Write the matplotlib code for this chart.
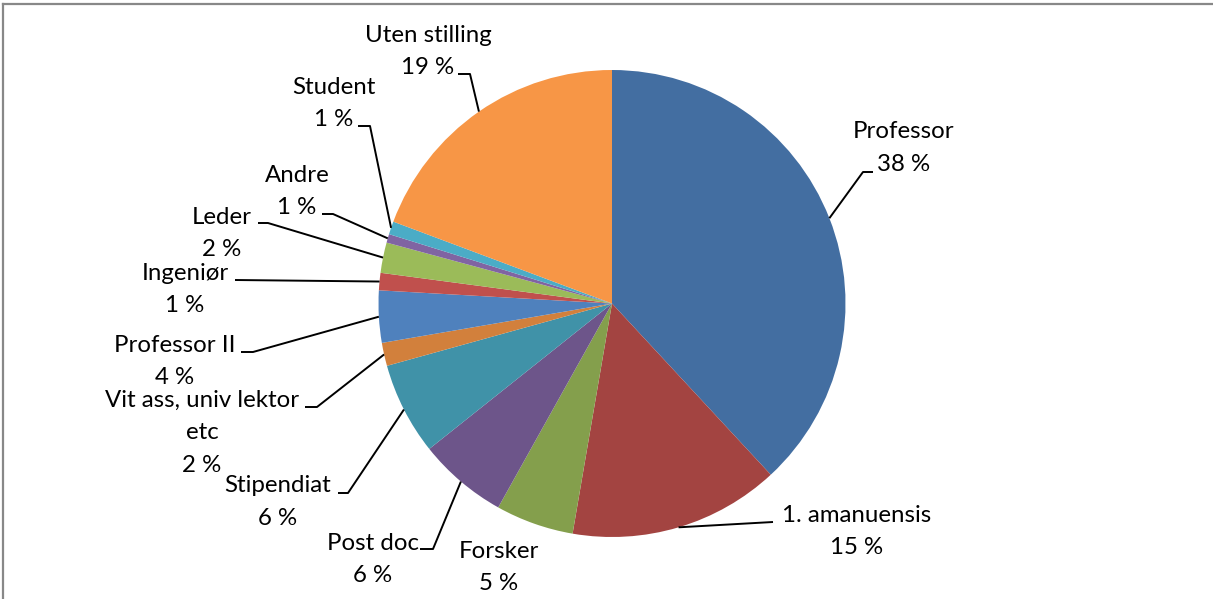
import matplotlib
matplotlib.use('Agg')
import matplotlib.pyplot as plt
import numpy as np

# ---- data ----
categories = ['Professor', '1. amanuensis', 'Forsker', 'Post doc', 'Stipendiat',
              'Vit ass, univ lektor\netc', 'Professor II', 'Ingeniør', 'Leder',
              'Andre', 'Student', 'Uten stilling']
shares = [38.1, 14.6, 5.4, 6.2, 6.4, 1.6, 3.6, 1.2, 2.1, 0.6, 0.9, 19.3]
colors = ['#436EA1', '#A34441', '#849F4C', '#6D558A', '#4092A8', '#D2803C',
          '#4F81BD', '#C0504D', '#9BBB59', '#8064A2', '#4BACC6', '#F79646']

# ---- layout (pixel coordinates, y down) ----
W, H = 1213, 599
cx, cy, R = 612, 303.5, 233.5
label_pos = [(904, 132), (856.5, 515), (499, 551), (373, 543), (278, 486),
             (202, 400), (175, 345), (185, 273), (222, 217), (297, 175),
             (334, 87), (428, 35)]
leader_pts = [[(873, 172), (863, 172)], [(773, 522)], [],
              [(420, 549), (433, 549)], [(338, 493), (348, 493)],
              [(305, 407), (317, 407)], [(241, 352), (253, 352)],
              [(235, 280)], [(258, 223), (268, 223)], [(322, 214), (333, 214)],
              [(358, 126), (370, 126)], [(458, 74), (470, 74)]]
line_gap = 32.5

plt.rcParams['font.family'] = ['Lato', 'DejaVu Sans']

def Y(y):
    return H - y

fig = plt.figure(figsize=(W / 100, H / 100), dpi=100)
ax = fig.add_axes([0, 0, 1, 1])
wedges, _ = ax.pie(shares, colors=colors, startangle=90, counterclock=False,
                   center=(cx, Y(cy)), radius=R,
                   wedgeprops=dict(linewidth=0.4, edgecolor='none'))
ax.set_xlim(0, W)
ax.set_ylim(0, H)
ax.set_aspect('auto')
ax.axis('off')

total = sum(shares)
for i, (cat, v, w) in enumerate(zip(categories, shares, wedges)):
    lines = cat.split('\n') + [f"{v / total * 100:.0f} %"]
    tx, ty = label_pos[i]
    for k, ln in enumerate(lines):
        ax.text(tx, Y(ty + k * line_gap), ln, ha='center', va='center',
                fontsize=17.3, color='black')
    pts = leader_pts[i]
    if pts:
        mid = np.deg2rad((w.theta1 + w.theta2) / 2)
        ex = w.center[0] + w.r * np.cos(mid)
        ey = w.center[1] + w.r * np.sin(mid)
        xs = [p[0] for p in pts] + [ex]
        ys = [Y(p[1]) for p in pts] + [ey]
        ax.plot(xs, ys, color='black', lw=1.4, solid_capstyle='butt')

# chart frame (top and left edges visible)
ax.plot([3, W], [Y(4), Y(4)], color='#888888', lw=1.6, clip_on=False)
ax.plot([3, 3], [Y(4), 0], color='#888888', lw=1.6, clip_on=False)

fig.savefig('out.png', dpi=100)
